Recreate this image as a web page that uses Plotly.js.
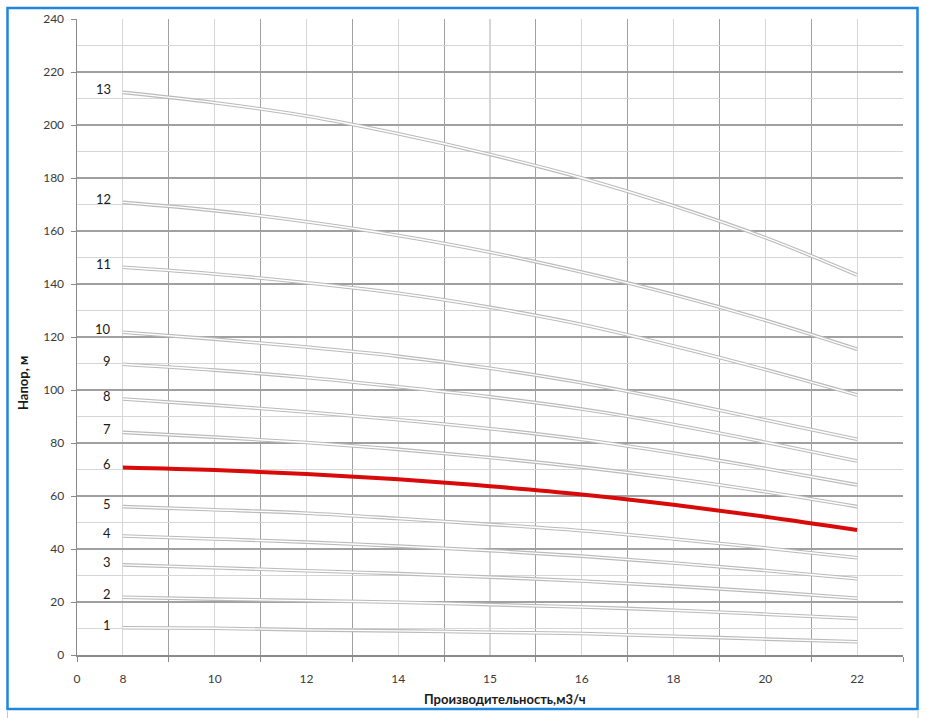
<!DOCTYPE html>
<html>
<head>
<meta charset="utf-8">
<script src="https://cdn.plot.ly/plotly-3.0.1.min.js"></script>
<style>
  html, body { margin: 0; padding: 0; background: #ffffff; }
  #chart { width: 926px; height: 718px; }
</style>
</head>
<body>
<div id="chart"></div>
<script>
// ---- data ----
const tickFlows = [0, 8, 10, 12, 14, 15, 16, 18, 20, 22];
const flows = [8, 10, 12, 14, 15, 16, 18, 20, 22];
const curveNames = ["1","2","3","4","5","6","7","8","9","10","11","12","13"];
const h1  = [10.3, 10.1, 9.5, 9.1, 8.6, 8.1, 7.1, 6.0, 5.0];
const h2  = [21.8, 21.1, 20.5, 19.9, 19.0, 18.1, 16.9, 15.4, 13.8];
const h3  = [34.0, 32.9, 31.8, 30.7, 29.4, 27.9, 26.0, 23.9, 21.4];
const h4  = [44.9, 43.8, 42.6, 41.1, 39.4, 37.3, 34.7, 31.9, 28.8];
const h5  = [56.0, 54.8, 53.5, 51.5, 49.3, 46.9, 43.8, 40.4, 36.7];
const h6  = [70.8, 69.8, 68.3, 66.3, 63.7, 60.6, 56.7, 52.2, 47.2];
const h7  = [84.0, 82.2, 80.2, 77.6, 74.5, 70.9, 66.6, 61.6, 56.0];
const h8  = [96.6, 94.3, 91.7, 88.8, 85.4, 81.3, 76.2, 70.4, 64.2];
const h9  = [109.7, 107.5, 104.7, 101.2, 97.4, 92.8, 87.0, 80.3, 73.2];
const h10 = [121.8, 119.2, 116.2, 112.7, 108.2, 102.7, 96.0, 88.7, 81.4];
const h11 = [146.3, 143.8, 140.5, 136.5, 131.2, 124.7, 116.6, 107.7, 98.1];
const h12 = [170.8, 167.7, 163.5, 158.3, 152.0, 144.5, 136.0, 126.3, 115.4];
const h13 = [212.3, 208.4, 203.4, 196.7, 188.9, 180.0, 169.5, 157.5, 143.4];
const heads = [h1, h2, h3, h4, h5, h6, h7, h8, h9, h10, h11, h12, h13];
const highlighted = "6";
const xTitle = "Производительность,м3/ч";
const yTitle = "Напор, м";

// ---- layout helpers ----
const W = 926, H = 718;
const M = { l: 77, r: 23, t: 19, b: 63 };
const PW = W - M.l - M.r, PH = H - M.t - M.b;
const px2x = p => (p - M.l) / PW;
const px2y = p => (H - M.b - p) / PH;

// the category-like x axis: tick labels sit on every other grid slot
const slotOf = f => { const i = tickFlows.indexOf(f); return i === 0 ? 0 : 2 * i - 1; };
const tickSlots = tickFlows.map(slotOf);
const xs = flows.map(slotOf);

const traces = [];
const annotations = [];
heads.forEach((h, k) => {
  const name = curveNames[k];
  if (name === highlighted) {
    traces.push({ x: xs, y: h, type: 'scatter', mode: 'lines', name: name,
      line: { color: '#d80a0a', width: 4, shape: 'spline', smoothing: 1 }, hoverinfo: 'skip' });
  } else {
    traces.push({ x: xs, y: h, type: 'scatter', mode: 'lines', name: name,
      line: { color: '#bababa', width: 3.6, shape: 'spline', smoothing: 1 }, hoverinfo: 'skip' });
    traces.push({ x: xs, y: h, type: 'scatter', mode: 'lines', name: name + ' inner',
      line: { color: '#ffffff', width: 1.4, shape: 'spline', smoothing: 1 }, hoverinfo: 'skip' });
  }
  annotations.push({ x: xs[0], y: h[0], xref: 'x', yref: 'y', text: name, showarrow: false,
    xanchor: 'right', yanchor: 'middle', xshift: -10, yshift: 3,
    font: { family: 'Lato, "Open Sans", sans-serif', size: 13, color: '#1a1a1a' } });
});

annotations.push({ text: '<b>' + yTitle + '</b>', xref: 'paper', yref: 'paper',
  x: px2x(23), y: px2y(383), textangle: -90, showarrow: false,
  xanchor: 'center', yanchor: 'middle',
  font: { family: 'Lato, "Open Sans", sans-serif', size: 13, color: '#1a1a1a' } });
annotations.push({ text: '<b>' + xTitle + '</b>', xref: 'paper', yref: 'paper',
  x: px2x(505), y: px2y(699), showarrow: false, xanchor: 'center', yanchor: 'middle',
  font: { family: 'Lato, "Open Sans", sans-serif', size: 13, color: '#1a1a1a' } });

const shapes = [
  { type: 'rect', xref: 'paper', yref: 'paper', layer: 'below',
    x0: px2x(7.5), x1: px2x(917.5), y0: px2y(709), y1: px2y(8),
    line: { color: '#1f86de', width: 2.5 }, fillcolor: 'rgba(0,0,0,0)' },
  { type: 'line', xref: 'paper', yref: 'paper', x0: px2x(7.5), x1: px2x(7.5), y0: px2y(711), y1: px2y(718),
    line: { color: '#c8c8c8', width: 1 } },
  { type: 'line', xref: 'paper', yref: 'paper', x0: px2x(918), x1: px2x(918), y0: px2y(711), y1: px2y(718),
    line: { color: '#c8c8c8', width: 1 } }
];

const tickFont = { family: 'Lato, "Open Sans", sans-serif', size: 12, color: '#3a3a3a' };

const layout = {
  width: W, height: H,
  margin: M,
  paper_bgcolor: '#ffffff', plot_bgcolor: '#ffffff',
  showlegend: false,
  xaxis: {
    range: [0, 18], tickmode: 'array', tickvals: tickSlots, ticktext: tickFlows.map(String),
    showgrid: true, gridcolor: '#d6d6d6', gridwidth: 1.2,
    ticks: '', tickfont: tickFont, ticklabelstandoff: 12,
    showline: true, linecolor: '#8a8a8a', linewidth: 1.5, zeroline: false,
    minor: { tickmode: 'linear', tick0: 0, dtick: 2, showgrid: true, gridcolor: '#a0a0a0', gridwidth: 1.2,
             ticks: 'outside', ticklen: 5, tickcolor: '#8a8a8a', tickwidth: 1 },
    fixedrange: true
  },
  yaxis: {
    range: [0, 240], tickmode: 'linear', tick0: 0, dtick: 20,
    showgrid: true, gridcolor: '#a0a0a0', gridwidth: 1.2,
    ticks: 'outside', ticklen: 5, tickcolor: '#8a8a8a', tickfont: tickFont, ticklabelstandoff: 4,
    showline: true, linecolor: '#8a8a8a', linewidth: 1.5, zeroline: false,
    minor: { tickmode: 'linear', tick0: 0, dtick: 10, showgrid: true, gridcolor: '#d6d6d6', gridwidth: 1.2, ticks: '' },
    fixedrange: true
  },
  annotations: annotations,
  shapes: shapes
};

Plotly.newPlot('chart', traces, layout, { displayModeBar: false, staticPlot: true });
</script>
</body>
</html>
